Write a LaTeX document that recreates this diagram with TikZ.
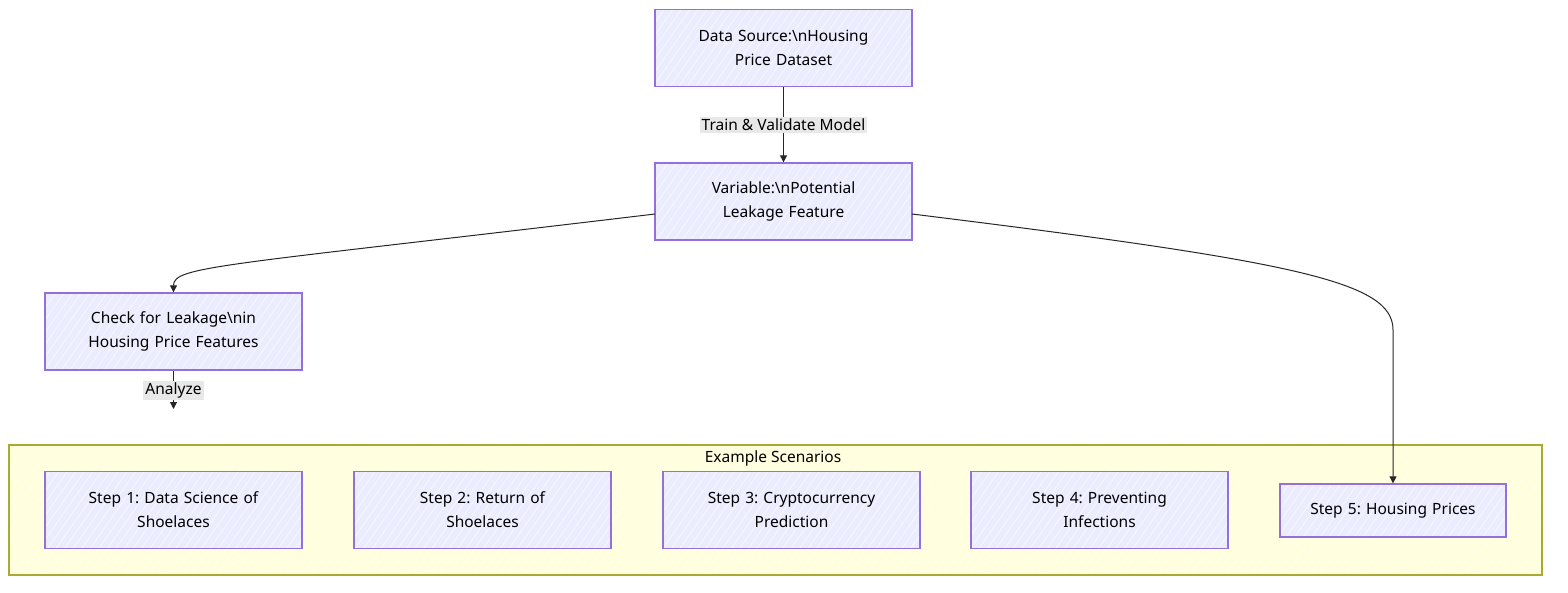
\documentclass[tikz,border=0pt]{standalone}
\usepackage{fontspec}
\setmainfont{Noto Sans}
\frenchspacing
\usetikzlibrary{arrows.meta,patterns.meta}
\definecolor{nodefill}{HTML}{ECECFF}
\definecolor{nodeline}{HTML}{9370DB}
\definecolor{clfill}{HTML}{FFFFDE}
\definecolor{clline}{HTML}{AAAA33}
\definecolor{lblfill}{HTML}{E8E8E8}
\tikzset{
  box/.style={draw=nodeline, line width=1.3pt,
    preaction={fill=nodefill},
    preaction={pattern={Lines[angle=55,distance=7pt,line width=0.7pt]}, pattern color=white!70!nodefill},
    minimum width=257pt, minimum height=77pt, text width=235pt, align=center,
    font=\fontsize{15.5}{24}\selectfont, inner sep=0pt},
  cluster/.style={draw=clline, line width=1.3pt,
    preaction={fill=clfill},
    preaction={pattern={Lines[angle=55,distance=7pt,line width=0.7pt]}, pattern color=white!60!clfill}},
  edge/.style={draw=black!85, line width=1pt, -{Triangle[length=7pt,width=7pt]}},
  lbl/.style={fill=lblfill, inner sep=2pt, font=\fontsize{15.5}{18}\selectfont},
  cltitle/.style={font=\fontsize{15.5}{18}\selectfont, inner sep=0pt}
}
\begin{document}
\begin{tikzpicture}[x=1pt,y=-1pt]
\useasboundingbox (0,0) rectangle (1568,592);
% cluster
\path[cluster] (9,445) rectangle (1542,575);
\node[cltitle] (ctitle) at (773,458) {Example Scenarios};
% nodes
\node[box] (ds) at (783.5,48) {Data Source:\textbackslash nHousing\\Price Dataset};
\node[box] (var) at (783.5,201.5) {Variable:\textbackslash nPotential\\Leakage Feature};
\node[box] (chk) at (173.5,331.5) {Check for Leakage\textbackslash nin\\Housing Price Features};
\node[box] (s1) at (173.5,510) {Step 1: Data Science of\\Shoelaces};
\node[box] (s2) at (482.5,510) {Step 2: Return of\\Shoelaces};
\node[box] (s3) at (791.5,510) {Step 3: Cryptocurrency\\Prediction};
\node[box] (s4) at (1099.5,510) {Step 4: Preventing\\Infections};
\node[box, minimum width=226pt, minimum height=53pt, text width=215pt] (s5) at (1393,510.5) {Step 5: Housing Prices};
% edges
\draw[edge] (ds.south) -- (var.north);
\node[lbl] (l1) at (783.5,125) {Train \& Validate Model};
\coordinate (vl) at (655,214);
\coordinate (vr) at (912,214);
\draw[edge] (vl) .. controls (220,266) and (173.5,266) .. (chk.north);
\coordinate (bend) at (1393,330);
\draw[edge] (vr) .. controls (1300,262) and (1393,282) .. (bend) -- (s5.north);
\coordinate (aend) at (173.5,409);
\draw[edge] (chk.south) -- (aend);
\node[lbl] (l2) at (173.5,390.5) {Analyze};
\end{tikzpicture}
\end{document}
